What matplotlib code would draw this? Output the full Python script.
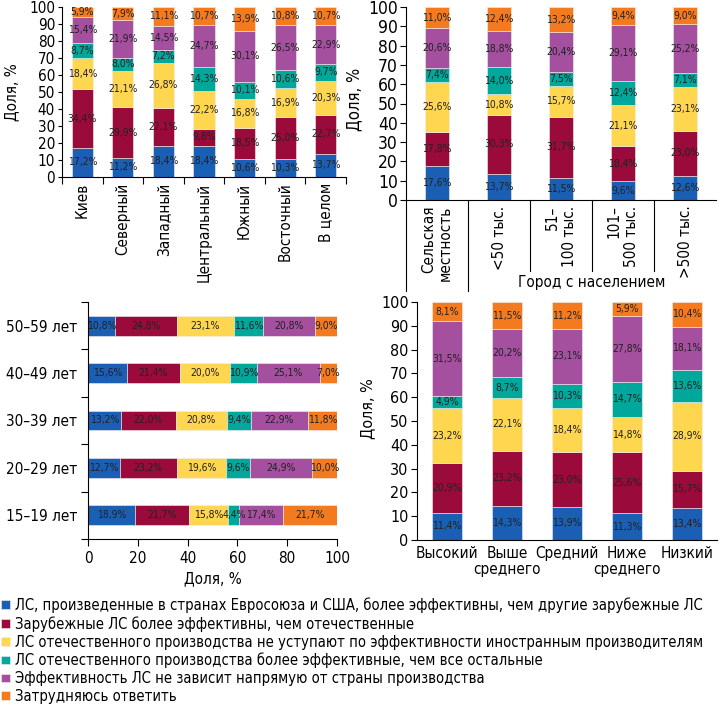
import matplotlib
matplotlib.use("Agg")
import matplotlib.pyplot as plt
import numpy as np

plt.rcParams['font.family'] = ['DejaVu Sans']
plt.rcParams['font.stretch'] = 'condensed'

colors = ['#1a5fb4', '#9a0b3c', '#ffd64f', '#00a79b', '#a54f9f', '#f47a20']
series_names = [
    "ЛС, произведенные в странах Евросоюза и США, более эффективны, чем другие зарубежные ЛС",
    "Зарубежные ЛС более эффективны, чем отечественные",
    "ЛС отечественного производства не уступают по эффективности иностранным производителям",
    "ЛС отечественного производства более эффективные, чем все остальные",
    "Эффективность ЛС не зависит напрямую от страны производства",
    "Затрудняюсь ответить",
]

# регионы
region_names = ["Киев", "Северный", "Западный", "Центральный", "Южный", "Восточный", "В целом"]
region_eu = [17.2, 11.2, 18.4, 18.4, 10.6, 10.3, 13.7]
region_foreign = [34.4, 29.9, 22.1, 9.8, 18.5, 25.0, 22.7]
region_equal = [18.4, 21.1, 26.8, 22.2, 16.8, 16.9, 20.3]
region_better = [8.7, 8.0, 7.2, 14.3, 10.1, 10.6, 9.7]
region_nomatter = [15.4, 21.9, 14.5, 24.7, 30.1, 26.5, 22.9]
region_unsure = [5.9, 7.9, 11.1, 10.7, 13.9, 10.8, 10.7]

# населенный пункт
town_names = ["Сельская\nместность", "<50 тыс.", "51–\n100 тыс.", "101–\n500 тыс.", ">500 тыс."]
town_eu = [17.6, 13.7, 11.5, 9.6, 12.6]
town_foreign = [17.8, 30.3, 31.7, 18.4, 23.0]
town_equal = [25.6, 10.8, 15.7, 21.1, 23.1]
town_better = [7.4, 14.0, 7.5, 12.4, 7.1]
town_nomatter = [20.6, 18.8, 20.4, 29.1, 25.2]
town_unsure = [11.0, 12.4, 13.2, 9.4, 9.0]

# возраст (снизу вверх)
age_names = ["15–19 лет", "20–29 лет", "30–39 лет", "40–49 лет", "50–59 лет"]
age_eu = [18.9, 12.7, 13.2, 15.6, 10.8]
age_foreign = [21.7, 23.2, 22.0, 21.4, 24.8]
age_equal = [15.8, 19.6, 20.8, 20.0, 23.1]
age_better = [4.4, 9.6, 9.4, 10.9, 11.6]
age_nomatter = [17.4, 24.9, 22.9, 25.1, 20.8]
age_unsure = [21.7, 10.0, 11.8, 7.0, 9.0]

# доход
income_names = ["Высокий", "Выше\nсреднего", "Средний", "Ниже\nсреднего", "Низкий"]
income_eu = [11.4, 14.3, 13.9, 11.3, 13.4]
income_foreign = [20.9, 23.2, 23.0, 25.6, 15.7]
income_equal = [23.2, 22.1, 18.4, 14.8, 28.9]
income_better = [4.9, 8.7, 10.3, 14.7, 13.6]
income_nomatter = [31.5, 20.2, 23.1, 27.8, 18.1]
income_unsure = [8.1, 11.5, 11.2, 5.9, 10.4]


def fmt(v):
    return f"{v:.1f}%".replace(".", ",")


def stacked(ax, n, series, width, horizontal=False):
    pos = np.arange(n)
    base = np.zeros(n)
    conts = []
    for vals, c in zip(series, colors):
        vals = np.array(vals)
        if horizontal:
            cont = ax.barh(pos, vals, height=width, left=base, color=c,
                           edgecolor='#f0f0f0', linewidth=0.4)
        else:
            cont = ax.bar(pos, vals, width, bottom=base, color=c,
                          edgecolor='#f0f0f0', linewidth=0.4)
        ax.bar_label(cont, labels=[fmt(v) for v in vals], label_type='center',
                     fontsize=7.5, color='#222222')
        base += vals
        conts.append(cont)
    for s in ['top', 'right']:
        ax.spines[s].set_visible(False)
    return conts


W, H = 720, 709
fig = plt.figure(figsize=(W / 100, H / 100), dpi=100)


def px_axes(left, top, right, bottom):
    return fig.add_axes([left / W, 1 - bottom / H, (right - left) / W, (bottom - top) / H])


# Панель 1
ax1 = px_axes(62, 7, 346, 177)
conts = stacked(ax1, len(region_names),
                [region_eu, region_foreign, region_equal, region_better, region_nomatter, region_unsure], 0.52)
ax1.set_xlim(-0.5, len(region_names) - 0.5)
ax1.set_ylim(0, 100)
ax1.set_yticks(range(0, 101, 10))
ax1.set_xticks(np.arange(len(region_names) + 1) - 0.5)
ax1.set_xticklabels([])
ax1.set_xticks(np.arange(len(region_names)), minor=True)
ax1.set_xticklabels(region_names, minor=True, rotation=90, fontsize=11)
ax1.tick_params(axis='x', which='minor', length=0, pad=4)
ax1.tick_params(axis='x', which='major', length=5)
ax1.tick_params(axis='y', length=3, labelsize=11, pad=2)
ax1.set_ylabel("Доля, %", fontsize=11)
ax1.yaxis.set_label_coords(-0.152, 0.5)

# Панель 2
ax2 = px_axes(406, 7, 716, 200)
stacked(ax2, len(town_names),
        [town_eu, town_foreign, town_equal, town_better, town_nomatter, town_unsure], 0.4)
ax2.set_xlim(-0.5, len(town_names) - 0.5)
ax2.set_ylim(0, 100)
ax2.set_yticks(range(0, 101, 10))
ax2.set_xticks(np.arange(len(town_names)))
ax2.set_xticklabels(town_names, rotation=90, fontsize=11, ma='right')
ax2.tick_params(axis='x', length=0, pad=4)
ax2.tick_params(axis='y', length=4, labelsize=12.5, pad=2)
ax2.set_ylabel("Доля, %", fontsize=12)
ax2.yaxis.set_label_coords(-0.139, 0.52)
tr = ax2.get_xaxis_transform()
for x, depth in [(-0.5, -0.47), (0.5, -0.47), (1.5, -0.37), (2.5, -0.37), (3.5, -0.37)]:
    ax2.plot([x, x], [0, depth], transform=tr, clip_on=False, color='black', lw=0.8)
ax2.text(2.5, -0.425, "Город с населением", transform=tr, ha='center', va='center', fontsize=11)

# Панель 3
ax3 = px_axes(88, 302, 337, 539)
stacked(ax3, len(age_names),
        [age_eu, age_foreign, age_equal, age_better, age_nomatter, age_unsure], 0.42, horizontal=True)
ax3.set_ylim(-0.5, len(age_names) - 0.5)
ax3.set_xlim(0, 100)
ax3.set_xticks(range(0, 101, 20))
ax3.set_yticks(np.arange(len(age_names) + 1) - 0.5)
ax3.set_yticklabels([])
ax3.set_yticks(np.arange(len(age_names)), minor=True)
ax3.set_yticklabels(age_names, minor=True, fontsize=11)
ax3.tick_params(axis='y', which='minor', length=0, pad=8)
ax3.tick_params(axis='y', which='major', length=5)
ax3.tick_params(axis='x', length=5, labelsize=11)
ax3.set_xlabel("Доля, %", fontsize=11, labelpad=4)

# Панель 4
ax4 = px_axes(417, 302, 717, 540)
stacked(ax4, len(income_names),
        [income_eu, income_foreign, income_equal, income_better, income_nomatter, income_unsure], 0.5)
ax4.set_xlim(-0.5, len(income_names) - 0.5)
ax4.set_ylim(0, 100)
ax4.set_yticks(range(0, 101, 10))
ax4.set_xticks(np.arange(len(income_names)))
ax4.set_xticklabels(income_names, fontsize=11, linespacing=1.1)
ax4.tick_params(axis='x', length=0, pad=4)
ax4.tick_params(axis='y', length=4, labelsize=11.5, pad=2)
ax4.set_ylabel("Доля, %", fontsize=11.5)
ax4.yaxis.set_label_coords(-0.14, 0.55)

# Легенда
fig.legend(conts, series_names, loc='upper left', bbox_to_anchor=(0.0, 1 - 596 / H),
           frameon=False, fontsize=10.6, handlelength=0.55, handleheight=0.55,
           handletextpad=0.4, labelspacing=0.2, borderaxespad=0, borderpad=0.1)

fig.savefig("out.png", dpi=100)
